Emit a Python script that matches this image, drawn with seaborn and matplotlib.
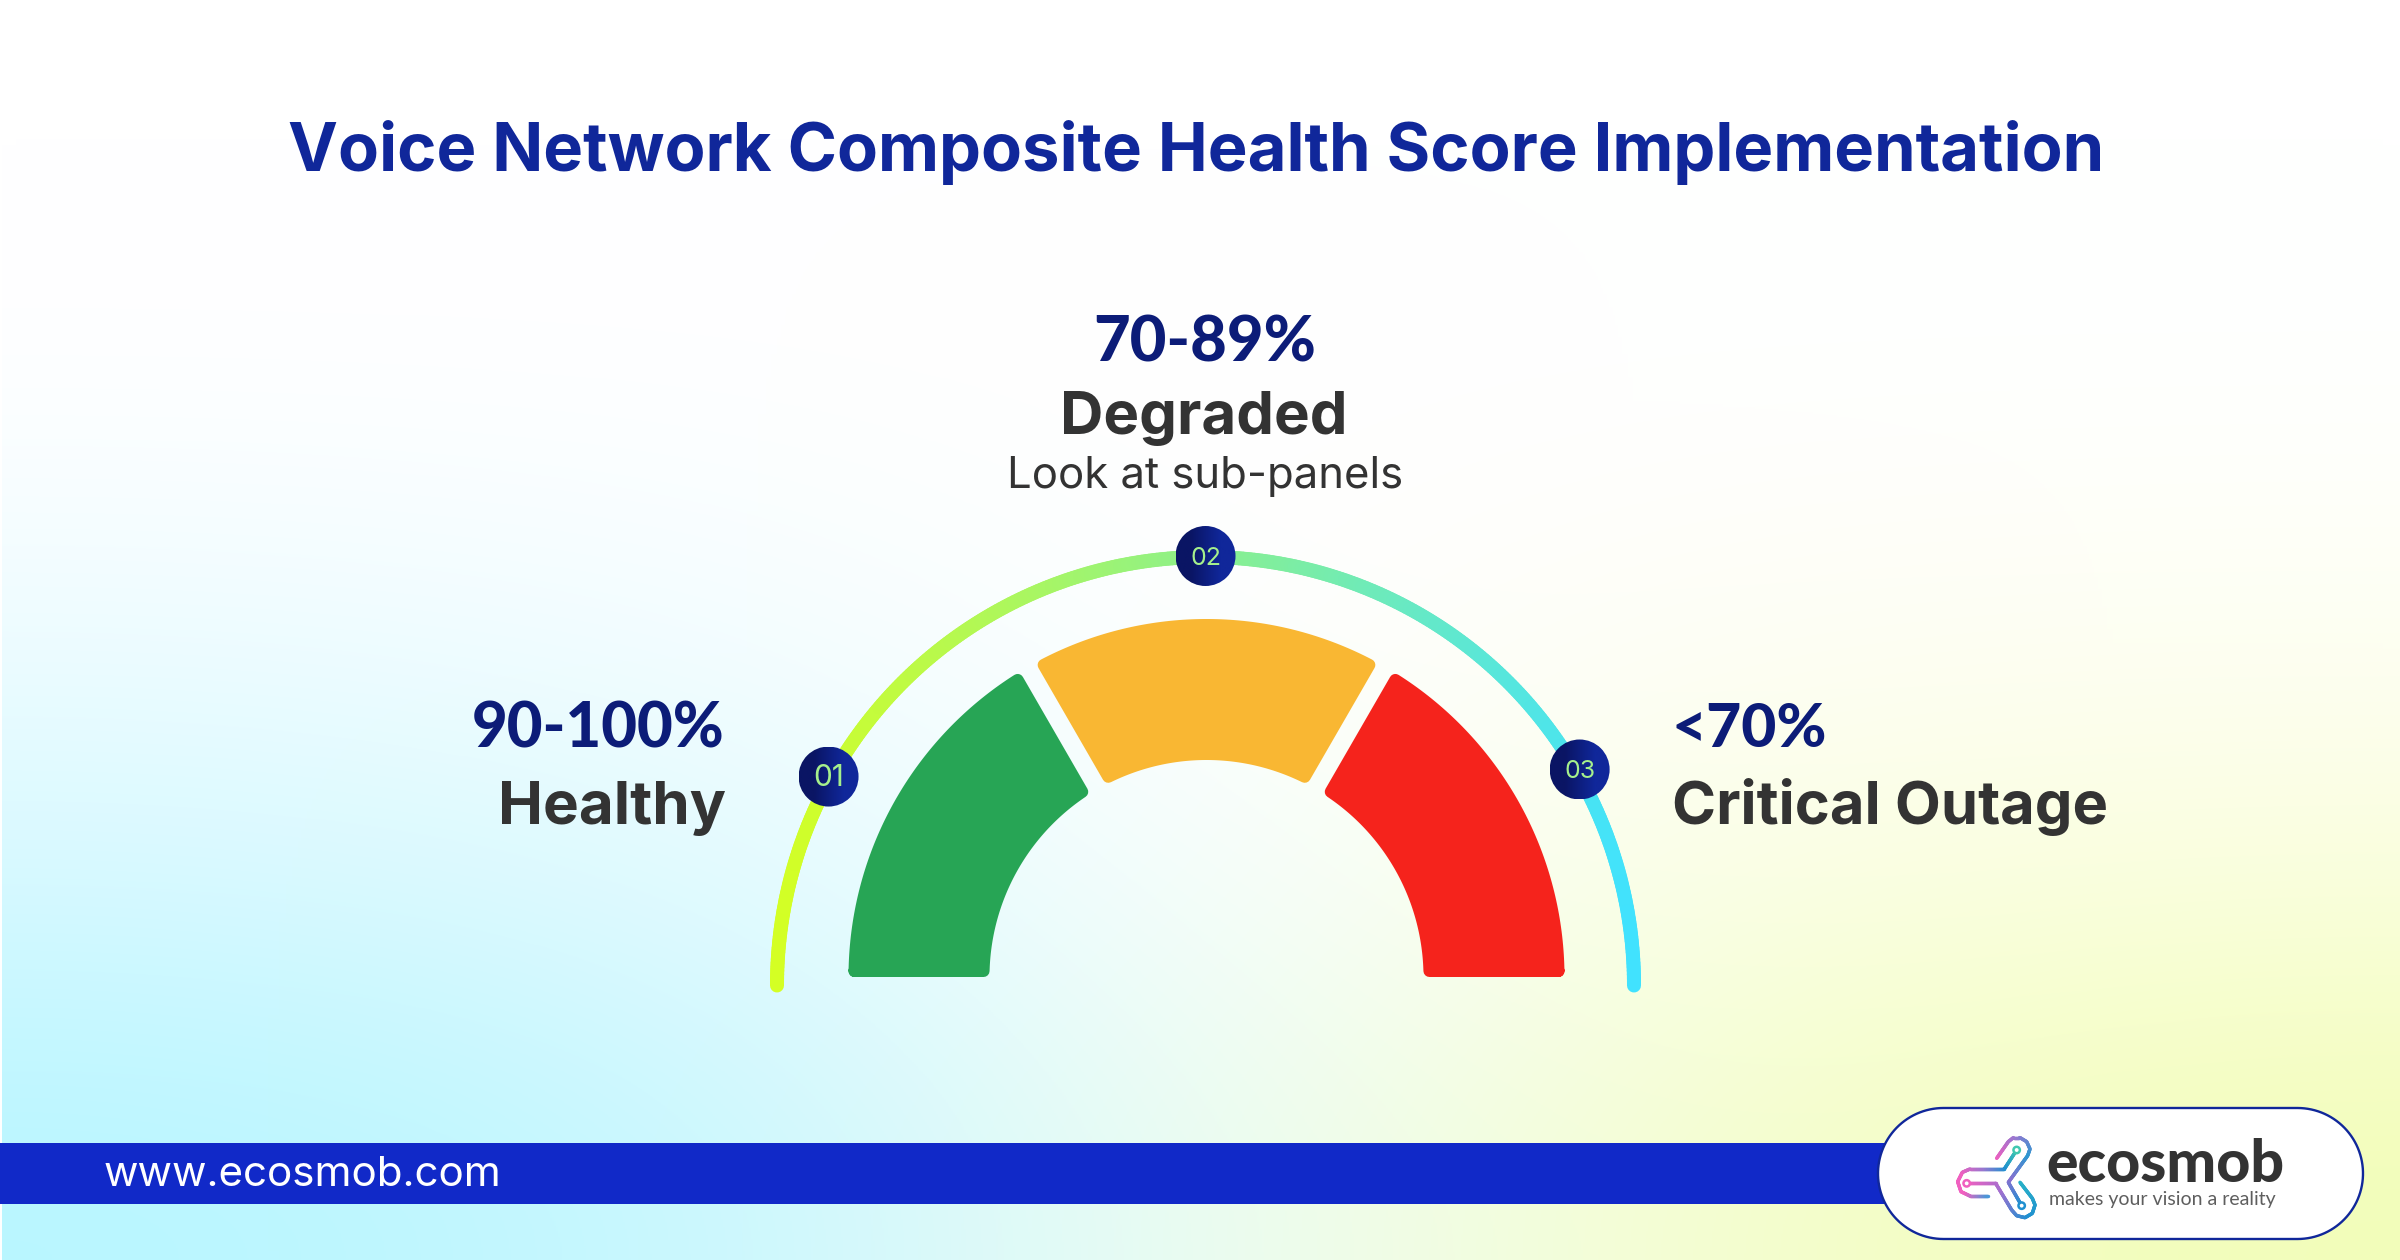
import numpy as np
import matplotlib
matplotlib.use("Agg")
import matplotlib.pyplot as plt
import seaborn as sns
from matplotlib.collections import LineCollection
from matplotlib.colors import to_rgb
from matplotlib.patches import Circle, Polygon, Rectangle

# Chart content
title = "Voice Network Composite Health Score Implementation"
segment_ranges = ["90-100%", "70-89%", "<70%"]
segment_names = ["Healthy", "Degraded", "Critical Outage"]
segment_note = "Look at sub-panels"
segment_spans = [60, 60, 60]  # degrees of the half circle
segment_colors = ["#27A555", "#F9B733", "#F5231C"]
badge_labels = ["01", "02", "03"]
badge_angles = [151, 90, 30]
badge_radii = [431, 429.5, 432]
ring_colors = ["#D4FF24", "#8CF08C", "#40E2FF"]

# Background colour grid (rows top to bottom)
bg_rows = [
    ["#FFFFFF", "#FFFFFF", "#FFFFFF", "#FFFFFF", "#FFFFFF"],
    ["#FFFFFF", "#FFFFFF", "#FFFFFF", "#FFFFFF", "#FFFFFF"],
    ["#EFFCFF", "#F4FDFF", "#FFFFFF", "#FEFFF6", "#FEFFF4"],
    ["#D6F9FF", "#E0FAFF", "#F8FEFF", "#FBFFE4", "#FAFFDE"],
    ["#B8F6FF", "#C8F7FF", "#EEFCF4", "#F5FED0", "#F2FDB8"],
]

NAVY = "#0C1C78"
DARK = "#333333"

sns.set_theme(style="white")
plt.rcParams["font.family"] = ["Inter", "DejaVu Sans"]

fig = plt.figure(figsize=(24, 12.6), dpi=100)
ax = fig.add_axes([0, 0, 1, 1])
ax.axis("off")

bg = np.array([[to_rgb(c) for c in row] for row in bg_rows])
ax.imshow(bg, extent=(2, 2400, 1260, 0), interpolation="bicubic", aspect="auto", zorder=0)


def fit_text(x, y, s, width, ha="left", **kw):
    # scale the font so the string spans the width seen in the reference
    t = ax.text(x, y, s, ha=ha, va="baseline", fontsize=40, **kw)
    w = t.get_window_extent(fig.canvas.get_renderer()).width
    t.set_fontsize(40 * width / w)
    return t


def gradient_line(points, colors, lw, zorder=3, n=160):
    points = np.array(points, dtype=float)
    dist = np.r_[0, np.cumsum(np.hypot(*np.diff(points, axis=0).T))]
    t = np.linspace(0, dist[-1], n)
    xy = np.c_[np.interp(t, dist, points[:, 0]), np.interp(t, dist, points[:, 1])]
    segs = np.stack([xy[:-1], xy[1:]], axis=1)
    pal = sns.blend_palette(colors, n - 1)
    ax.add_collection(LineCollection(segs, colors=pal, linewidths=lw,
                                     capstyle="round", zorder=zorder))


# Gauge
cx, cy = 1206.5, 977
r_out, r_in = 358, 217
half_gap = 9
inset = 6
edges = np.cumsum([0] + segment_spans)


def segment_polygon(a_left, a_right, gap_left, gap_right):
    # a_left > a_right in degrees, inset so the stroke rounds the corners
    pts = []
    ro = r_out - inset
    ri = r_in + inset
    off_l = gap_left + inset if gap_left else 0
    off_r = gap_right + inset if gap_right else 0
    ao_l = a_left - np.degrees(np.arcsin(off_l / ro))
    ao_r = a_right + np.degrees(np.arcsin(off_r / ro))
    ai_l = a_left - np.degrees(np.arcsin(off_l / ri))
    ai_r = a_right + np.degrees(np.arcsin(off_r / ri))
    for a in np.linspace(ao_l, ao_r, 80):
        pts.append((cx + ro * np.cos(np.radians(a)), cy - ro * np.sin(np.radians(a))))
    for a in np.linspace(ai_r, ai_l, 80):
        pts.append((cx + ri * np.cos(np.radians(a)), cy - ri * np.sin(np.radians(a))))
    return pts


for i, color in enumerate(segment_colors):
    a_left = 180 - edges[i]
    a_right = 180 - edges[i + 1]
    gl = half_gap if i > 0 else 0
    gr = half_gap if i < len(segment_colors) - 1 else 0
    poly = segment_polygon(a_left, a_right, gl, gr)
    if i in (0, 2):
        poly = [(p[0], min(p[1], cy - inset)) for p in poly]
    ax.add_patch(Polygon(poly, closed=True, facecolor=color, edgecolor=color,
                         linewidth=inset * 2 * 0.72, joinstyle="round", zorder=2))

# Outer ring with a left to right colour blend
ring_r = 428.5
ring_cx, ring_cy = 1205.5, 985.5
ring_a = np.radians(np.linspace(180, 0, 361))
ring_x = ring_cx + ring_r * np.cos(ring_a)
ring_y = ring_cy - ring_r * np.sin(ring_a)
ring_t = (ring_x - ring_x.min()) / (ring_x.max() - ring_x.min())
ring_pal = sns.blend_palette(ring_colors, 256)
ring_segs = np.stack([np.c_[ring_x[:-1], ring_y[:-1]], np.c_[ring_x[1:], ring_y[1:]]], axis=1)
ax.add_collection(LineCollection(ring_segs, colors=[ring_pal[int(v * 255)] for v in ring_t[:-1]],
                                 linewidths=14 * 0.72, capstyle="round", zorder=3))

# Numbered badges
badge_grad = np.array([[to_rgb("#0A1564"), to_rgb("#10279A")]])
for label, angle, rad in zip(badge_labels, badge_angles, badge_radii):
    bx = ring_cx + rad * np.cos(np.radians(angle))
    by = ring_cy - rad * np.sin(np.radians(angle))
    im = ax.imshow(badge_grad, extent=(bx - 30, bx + 30, by + 30, by - 30),
                   interpolation="bilinear", aspect="auto", zorder=4)
    circ = Circle((bx, by), 30, transform=ax.transData, facecolor="none", edgecolor="none")
    ax.add_patch(circ)
    im.set_clip_path(circ)
    fit_text(bx, by + 9, label, 31, ha="center", color="#A6F08C", zorder=5)

# Title and labels
fit_text(288, 171, title, 1819, color="#10279A", weight="bold")
fit_text(724, 747, segment_ranges[0], 252, ha="right", color=NAVY, family="Lato", weight="black")
fit_text(726, 823.5, segment_names[0], 228, ha="right", color=DARK, weight="bold")
fit_text(1205, 361, segment_ranges[1], 222, ha="center", color=NAVY, family="Lato", weight="black")
fit_text(1204, 434.5, segment_names[1], 288, ha="center", color=DARK, weight="bold")
fit_text(1205, 488, segment_note, 396, ha="center", color=DARK)
fit_text(1672, 747, segment_ranges[2], 155, color=NAVY, family="Lato", weight="black")
fit_text(1672, 823.5, segment_names[2], 436, color=DARK, weight="bold")

# Footer
ax.add_patch(Rectangle((0, 1143), 1900, 61, facecolor="#1129C8", edgecolor="none", zorder=2))
fit_text(104, 1186, "www.ecosmob.com", 399, color="white")
pill_t = np.radians(np.linspace(90, 270, 60))
pill_x = np.r_[1943.5 + 65.5 * np.cos(pill_t), 2297.5 - 65.5 * np.cos(pill_t)]
pill_y = np.r_[1173.5 - 65.5 * np.sin(pill_t), 1173.5 + 65.5 * np.sin(pill_t)]
ax.add_patch(Polygon(np.c_[pill_x, pill_y], closed=True, facecolor="white",
                     edgecolor="#10279A", linewidth=1.7, zorder=3))

# Logo mark, three arms
logo_x, logo_y = 1945, 1125
arm_a = [(155, 100), (190, 50), (205, 38), (225, 38), (245, 50), (255, 72), (248, 92), (190, 172), (230, 242)]
arm_b = [(215, 75), (178, 132), (75, 132), (52, 142), (38, 170), (48, 200), (75, 213), (130, 213)]
arm_c = [(65, 175), (152, 175), (200, 255), (215, 272), (240, 278), (262, 265), (270, 240), (262, 220), (225, 172)]
arm_colors = [
    ["#EE60C0", "#9878D0", "#2C98D0", "#8A70D0", "#2090D0"],
    ["#40C8B0", "#2090D0", "#9878D0", "#F060C0", "#F060C0", "#4898D8"],
    ["#F060C0", "#A070D0", "#2090D0", "#28B0C8"],
]
for arm, cols in zip([arm_a, arm_b, arm_c], arm_colors):
    arm_px = [(logo_x + p[0] / 3, logo_y + p[1] / 3) for p in arm]
    gradient_line(arm_px, cols, lw=2.5, zorder=4)
for p, c in [((215, 75), "#40C8B0"), ((65, 175), "#F060C0"), ((230, 242), "#2090D0")]:
    ax.add_patch(Circle((logo_x + p[0] / 3, logo_y + p[1] / 3), 3.2, facecolor="white",
                        edgecolor=c, linewidth=1.8, zorder=5))

fit_text(2046, 1182, "ecosmob", 238, color=DARK, family="Lato", weight="black", zorder=4)
fit_text(2049, 1205, "makes your vision a reality", 227, color="#5E5E5E", family="Lato", zorder=4)

ax.set_xlim(0, 2400)
ax.set_ylim(1260, 0)
fig.savefig("out.png", dpi=100)
